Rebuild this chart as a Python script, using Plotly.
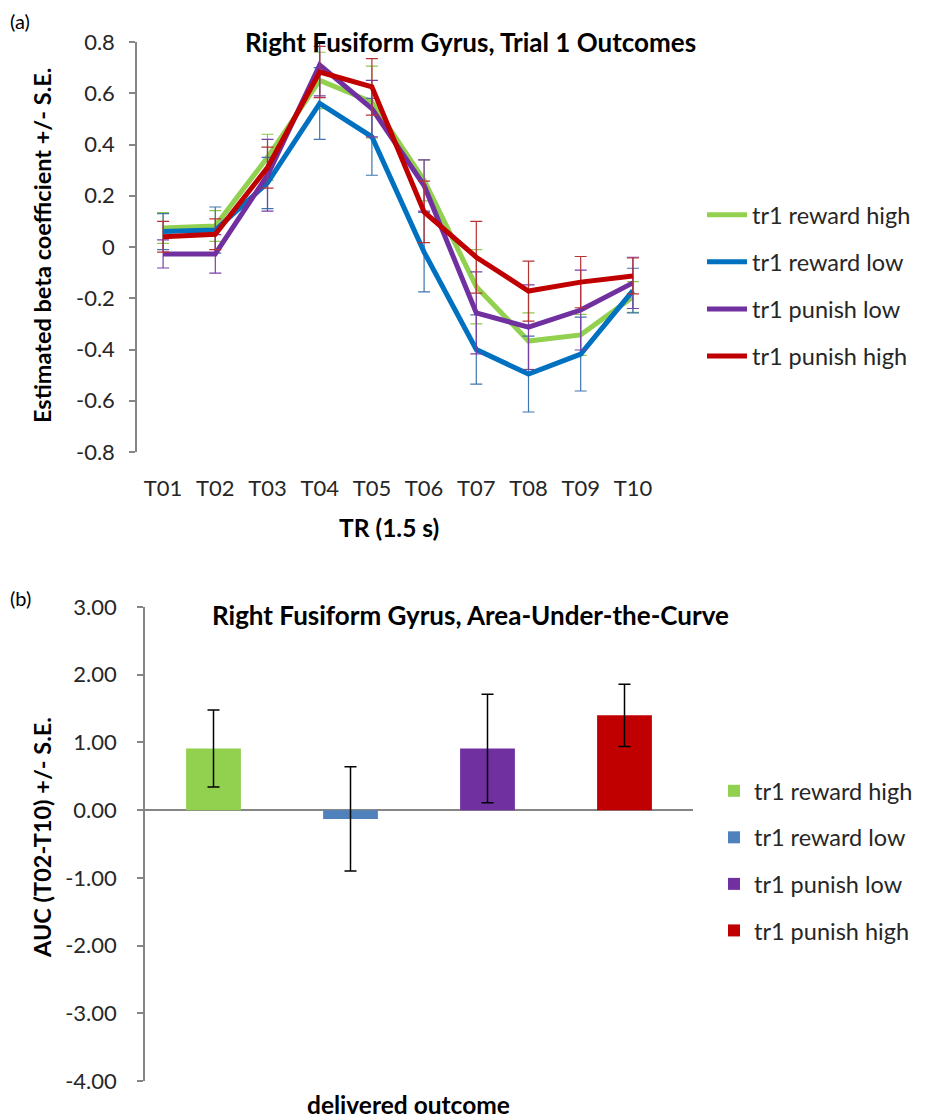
import plotly.graph_objects as go

W, H = 927, 1120
OFF = 8  # page body margin offset

# ---------------- data ----------------
trs = ["T01", "T02", "T03", "T04", "T05", "T06", "T07", "T08", "T09", "T10"]
series_names = ["tr1 reward high", "tr1 reward low", "tr1 punish low", "tr1 punish high"]

reward_high = [0.074, 0.082, 0.35, 0.65, 0.566, 0.26, -0.155, -0.367, -0.343, -0.195]
reward_low = [0.06, 0.066, 0.25, 0.56, 0.43, -0.02, -0.40, -0.496, -0.418, -0.17]
punish_low = [-0.027, -0.027, 0.28, 0.71, 0.54, 0.24, -0.257, -0.313, -0.246, -0.14]
punish_high = [0.04, 0.05, 0.31, 0.683, 0.625, 0.137, -0.04, -0.172, -0.137, -0.113]

se_reward_high = [0.06, 0.06, 0.09, 0.11, 0.14, 0.08, 0.145, 0.11, 0.08, 0.06]
se_reward_low = [0.07, 0.09, 0.10, 0.14, 0.15, 0.155, 0.135, 0.148, 0.144, 0.087]
se_punish_low = [0.055, 0.075, 0.14, 0.12, 0.11, 0.10, 0.16, 0.165, 0.156, 0.10]
se_punish_high = [0.06, 0.06, 0.08, 0.10, 0.11, 0.12, 0.14, 0.117, 0.10, 0.07]

auc_values = [0.91, -0.13, 0.91, 1.40]
auc_se = [0.57, 0.77, 0.80, 0.46]

line_colors = ["#92D050", "#0070C0", "#7030A0", "#C00000"]
err_colors = ["#8CC84B", "#3F76AE", "#7A3FA6", "#B83232"]
bar_colors = ["#92D050", "#4F81BD", "#7030A0", "#C00000"]

FONT = "Lato, 'Open Sans', sans-serif"
AX = "#868686"
TXT = "#262626"

def px_x(p):
    return (p - OFF) / W

def px_y(p):
    return 1 - (p - OFF) / H

# plot areas (screen pixels)
top_x = [137, 659]
top_y = [42, 452]
bot_x = [145, 693]
bot_y = [607, 1081]
top_range = [-0.8, 0.8]
bot_range = [-4, 3]

fig = go.Figure()

line_vals = [reward_high, reward_low, punish_low, punish_high]
line_ses = [se_reward_high, se_reward_low, se_punish_low, se_punish_high]
for name, vals, ses, lc, ec in zip(series_names, line_vals, line_ses, line_colors, err_colors):
    fig.add_trace(go.Scatter(
        x=trs, y=vals, name=name, mode="lines",
        line=dict(color=lc, width=5),
        error_y=dict(type="data", array=ses, visible=True, color=ec, thickness=1.2, width=6),
        xaxis="x", yaxis="y", legend="legend", legendgroup=name,
    ))

for i, (name, v, s, bc) in enumerate(zip(series_names, auc_values, auc_se, bar_colors)):
    fig.add_trace(go.Bar(
        x=[i], y=[v], name=name, width=0.4,
        marker=dict(color=bc, line=dict(width=0)),
        error_y=dict(type="data", array=[s], visible=True, color="#000000", thickness=1.5, width=6),
        xaxis="x2", yaxis="y2", legend="legend2", legendgroup="b" + name,
    ))

top_dom_y = [px_y(top_y[1]), px_y(top_y[0])]
zero_pos = top_dom_y[0] + (0 - top_range[0]) / (top_range[1] - top_range[0]) * (top_dom_y[1] - top_dom_y[0])

tickfont = dict(family=FONT, size=22, color=TXT)

fig.update_layout(
    template="none",
    width=W, height=H,
    margin=dict(l=0, r=0, t=0, b=0, pad=0, autoexpand=False),
    paper_bgcolor="white", plot_bgcolor="white",
    barmode="overlay",
    font=dict(family=FONT, color=TXT),
    xaxis=dict(
        domain=[px_x(top_x[0]), px_x(top_x[1])], anchor="y", automargin=False,
        type="category", categoryorder="array", categoryarray=trs,
        range=[-0.5, 9.5], showline=False, ticks="", showgrid=False, zeroline=False,
        tickfont=tickfont, ticklabelstandoff=21,
    ),
    xaxis3=dict(
        domain=[px_x(top_x[0]), px_x(top_x[1])], overlaying="x", automargin=False,
        anchor="free", position=zero_pos, range=[0, 10],
        tickvals=list(range(11)), showticklabels=False,
        ticks="outside", ticklen=6, tickcolor=AX, tickwidth=1.5,
        showline=True, linecolor=AX, linewidth=1.5, showgrid=False, zeroline=False,
    ),
    yaxis=dict(
        domain=top_dom_y, anchor="x", range=top_range, automargin=False,
        tickvals=[-0.8, -0.6, -0.4, -0.2, 0, 0.2, 0.4, 0.6, 0.8],
        ticktext=["-0.8", "-0.6", "-0.4", "-0.2", "0", "0.2", "0.4", "0.6", "0.8"],
        showline=True, linecolor=AX, linewidth=1.5, ticks="outside", ticklen=6,
        tickcolor=AX, tickwidth=1.5, showgrid=False, zeroline=False,
        tickfont=tickfont, ticklabelstandoff=10,
    ),
    xaxis2=dict(
        domain=[px_x(bot_x[0]), px_x(bot_x[1])], anchor="y2", automargin=False,
        range=[-0.5, 3.5], showticklabels=False, ticks="", showline=False,
        showgrid=False, zeroline=False,
    ),
    yaxis2=dict(
        domain=[px_y(bot_y[1]), px_y(bot_y[0])], anchor="x2", range=bot_range, automargin=False,
        tickvals=[-4, -3, -2, -1, 0, 1, 2, 3],
        ticktext=["-4.00", "-3.00", "-2.00", "-1.00", "0.00", "1.00", "2.00", "3.00"],
        showline=True, linecolor=AX, linewidth=1.5, ticks="outside", ticklen=6,
        tickcolor=AX, tickwidth=1.5, showgrid=False,
        zeroline=True, zerolinecolor=AX, zerolinewidth=1.5,
        tickfont=tickfont, ticklabelstandoff=16,
    ),
    legend=dict(
        x=px_x(702), y=px_y(193), xanchor="left", yanchor="top",
        font=dict(family=FONT, size=23.5, color=TXT), traceorder="grouped",
        tracegroupgap=13.5, bgcolor="rgba(0,0,0,0)", itemwidth=40,
    ),
    legend2=dict(
        x=px_x(714), y=px_y(769), xanchor="left", yanchor="top",
        font=dict(family=FONT, size=23.5, color=TXT), traceorder="grouped",
        tracegroupgap=13, bgcolor="rgba(0,0,0,0)", itemwidth=30,
    ),
    showlegend=True,
)

ann = [
    dict(text="(a)", x=px_x(8), y=px_y(21), xanchor="left", yanchor="middle", size=20, bold=False),
    dict(text="(b)", x=px_x(8), y=px_y(598), xanchor="left", yanchor="middle", size=20, bold=False),
    dict(text="Right Fusiform Gyrus, Trial 1 Outcomes", x=px_x(470), y=px_y(42), xanchor="center", yanchor="middle", size=26, bold=True),
    dict(text="Right Fusiform Gyrus, Area-Under-the-Curve", x=px_x(470), y=px_y(615), xanchor="center", yanchor="middle", size=26, bold=True),
    dict(text="TR (1.5 s)", x=px_x(389), y=px_y(527), xanchor="center", yanchor="middle", size=24.5, bold=True),
    dict(text="delivered outcome", x=px_x(408), y=px_y(1104), xanchor="center", yanchor="middle", size=24.5, bold=True),
]
for a in ann:
    t = "<b>%s</b>" % a["text"] if a["bold"] else a["text"]
    fig.add_annotation(text=t, x=a["x"], y=a["y"], xref="paper", yref="paper",
                       xanchor=a["xanchor"], yanchor=a["yanchor"], showarrow=False,
                       font=dict(family=FONT, size=a["size"], color="#000000"))

fig.add_annotation(text="<b>Estimated beta coefficient +/- S.E.</b>", x=px_x(42), y=px_y(246),
                   xref="paper", yref="paper", textangle=-90, showarrow=False,
                   xanchor="center", yanchor="middle",
                   font=dict(family=FONT, size=23.5, color="#000000"))
fig.add_annotation(text="<b>AUC (T02-T10) +/- S.E.</b>", x=px_x(42), y=px_y(838),
                   xref="paper", yref="paper", textangle=-90, showarrow=False,
                   xanchor="center", yanchor="middle",
                   font=dict(family=FONT, size=23.5, color="#000000"))

fig.write_html("out.html")
